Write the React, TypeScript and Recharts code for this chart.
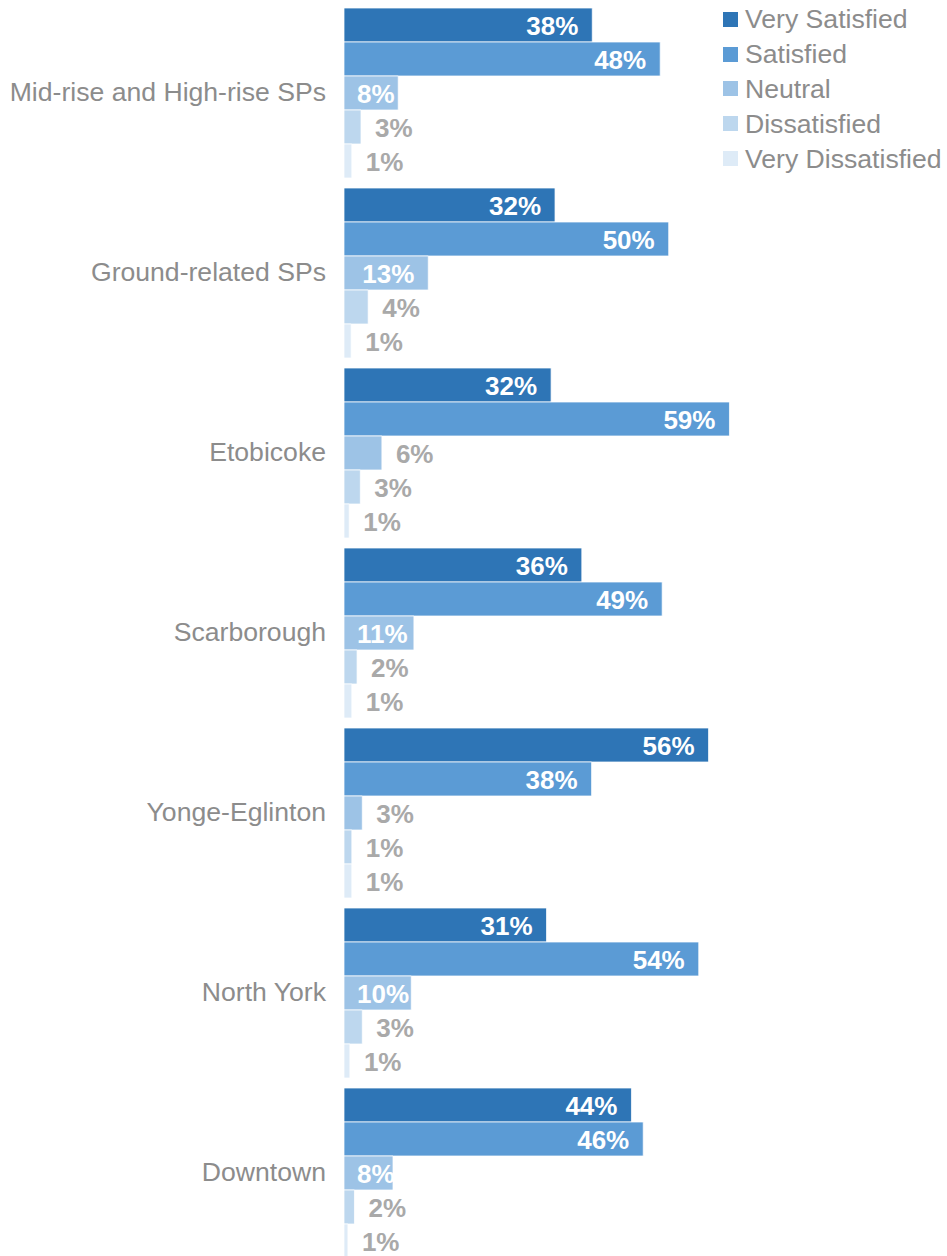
import React from 'react';
import { BarChart, Bar, XAxis, YAxis, LabelList } from 'recharts';

const categories = [
  'Mid-rise and High-rise SPs',
  'Ground-related SPs',
  'Etobicoke',
  'Scarborough',
  'Yonge-Eglinton',
  'North York',
  'Downtown',
];

// shares in % (labels show the rounded value)
const verySatisfied = [38.0, 32.3, 31.7, 36.4, 55.8, 31.0, 44.0];
const satisfied = [48.4, 49.7, 59.0, 48.7, 37.9, 54.3, 45.8];
const neutral = [8.3, 12.9, 5.8, 10.7, 2.8, 10.3, 7.5];
const dissatisfied = [2.6, 3.7, 2.5, 2.0, 1.2, 2.8, 1.6];
const veryDissatisfied = [1.2, 1.1, 0.8, 1.2, 1.2, 0.9, 0.6];

const seriesNames = ['Very Satisfied', 'Satisfied', 'Neutral', 'Dissatisfied', 'Very Dissatisfied'];
const seriesKeys = ['vs', 's', 'n', 'd', 'vd'];
const seriesColors = ['#2E75B6', '#5B9BD5', '#9DC3E6', '#BDD7EE', '#DEEBF7'];

const data = categories.map((name, i) => ({
  name,
  vs: verySatisfied[i],
  s: satisfied[i],
  n: neutral[i],
  d: dissatisfied[i],
  vd: veryDissatisfied[i],
}));

const FONT = '"Liberation Sans", Arial, sans-serif';
const TEXT_GRAY = '#8C8C8C';
const LABEL_GRAY = '#A9A9A9';

const renderLabel = (props: any) => {
  const { x, y, width, height, value } = props;
  const text = `${Math.round(value)}%`;
  const tw = (text.length - 1) * 0.556 * 26 + 0.889 * 26;
  const cy = y + height / 2;
  if (value >= 7) {
    const end = x + width - 14;
    const fitsEnd = end - tw >= x + 13;
    return (
      <text
        x={fitsEnd ? end : x + 13}
        y={cy}
        dy="0.38em"
        textAnchor={fitsEnd ? 'end' : 'start'}
        fill="#FFFFFF"
        fontSize={26}
        fontWeight="bold"
        fontFamily={FONT}
      >
        {text}
      </text>
    );
  }
  return (
    <text
      x={x + width + 14}
      y={cy}
      dy="0.38em"
      textAnchor="start"
      fill={LABEL_GRAY}
      fontSize={26}
      fontWeight="bold"
      fontFamily={FONT}
    >
      {text}
    </text>
  );
};

export default function App() {
  return (
    <div style={{ position: 'fixed', left: 0, top: 0, width: 947, height: 1256, overflow: 'hidden', background: '#fff' }}>
      <BarChart
        width={947}
        height={1264}
        data={data}
        layout="vertical"
        margin={{ top: 2, right: 211, bottom: 2, left: 0 }}
        barCategoryGap={6}
        barGap={0}
      >
        <XAxis type="number" domain={[0, 60]} hide />
        <YAxis
          type="category"
          dataKey="name"
          width={344}
          axisLine={false}
          tickLine={false}
          tickSize={0}
          tickMargin={18}
          tick={{ fill: TEXT_GRAY, fontSize: 26.6, fontFamily: FONT }}
          interval={0}
        />
        {seriesKeys.map((k, i) => (
          <Bar key={k} dataKey={k} name={seriesNames[i]} fill={seriesColors[i]} stroke="#FFFFFF" strokeWidth={0.75} isAnimationActive={false}>
            <LabelList dataKey={k} content={renderLabel} />
          </Bar>
        ))}
      </BarChart>
      <div style={{ position: 'absolute', left: 723, top: 2, fontFamily: FONT }}>
        {seriesNames.map((n, i) => (
          <div key={n} style={{ display: 'flex', alignItems: 'center', height: 34.8 }}>
            <div style={{ width: 15, height: 15, background: seriesColors[i], marginRight: 7 }} />
            <span style={{ color: TEXT_GRAY, fontSize: 26.6, lineHeight: '30px' }}>{n}</span>
          </div>
        ))}
      </div>
    </div>
  );
}
